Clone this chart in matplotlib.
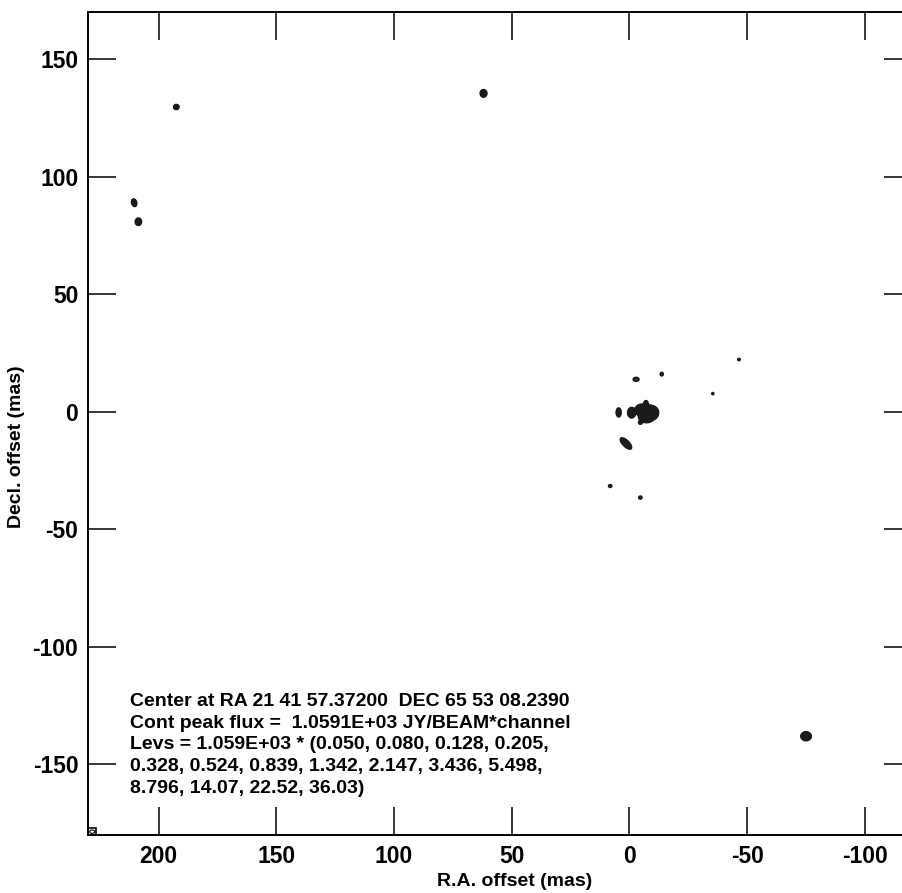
import numpy as np
import matplotlib.pyplot as plt
from matplotlib.patches import Rectangle, Ellipse

plt.rcParams['font.family'] = ['Liberation Sans', 'DejaVu Sans']
plt.rcParams['font.weight'] = 'bold'
plt.rcParams['axes.unicode_minus'] = False

# Components (offsets in mas, peak in Jy/beam*channel,
# sigmas in mas along major/minor axis, position angle in deg from +x)
src_x = [-7.4, -5.0, -9.8, -7.0, -6.0, -0.9, 4.6, 1.5, -2.8, -13.7, -4.6,
         -46.5, -35.4, 8.2, -4.6, -75.0, 210.4, 208.6, 192.5, 62.0]
src_y = [-0.8, 0.8, -0.4, 3.6, -2.6, -0.4, -0.3, -13.5, 13.8, 16.0, -4.6,
         22.2, 7.7, -31.6, -36.5, -138.0, 88.9, 80.8, 129.6, 135.4]
src_peak = [1900, 700, 850, 160, 300, 520, 240, 320, 130, 100, 110,
            80, 75, 100, 100, 520, 200, 240, 170, 260]
src_smaj = [1.4, 1.1, 1.15, 0.7, 0.9, 1.0, 1.05, 1.6, 0.85, 0.6, 0.55,
            0.5, 0.45, 0.55, 0.55, 1.0, 0.95, 0.85, 0.7, 0.85]
src_smin = [1.3, 1.0, 1.05, 0.5, 0.7, 0.75, 0.55, 0.65, 0.55, 0.5, 0.5,
            0.45, 0.45, 0.45, 0.5, 0.85, 0.6, 0.72, 0.65, 0.75]
src_pa = [90, 0, 90, 90, 0, 90, 90, 45, 0, 90, 0,
          0, 0, 0, 0, 0, 75, 90, 0, 90]

lev_base = 1.059E+03
lev_mult = [0.050, 0.080, 0.128, 0.205, 0.328, 0.524, 0.839, 1.342,
            2.147, 3.436, 5.498, 8.796, 14.07, 22.52, 36.03]

x_ticks = [200, 150, 100, 50, 0, -50, -100]
y_ticks = [-150, -100, -50, 0, 50, 100, 150]

info_lines = [
    "Center at RA 21 41 57.37200  DEC 65 53 08.2390",
    "Cont peak flux =  1.0591E+03 JY/BEAM*channel",
    "Levs = 1.059E+03 * (0.050, 0.080, 0.128, 0.205,",
    "0.328, 0.524, 0.839, 1.342, 2.147, 3.436, 5.498,",
    "8.796, 14.07, 22.52, 36.03)",
]

# Build the image from the components
xg = np.arange(232, -122, -0.15)
yg = np.arange(-182, 172, 0.15)
X, Y = np.meshgrid(xg, yg)
img = np.zeros_like(X)
for x0, y0, p, a, b, pa in zip(src_x, src_y, src_peak, src_smaj, src_smin, src_pa):
    r = 6 * a
    ix = np.where(np.abs(xg - x0) < r)[0]
    iy = np.where(np.abs(yg - y0) < r)[0]
    sl = (slice(iy[0], iy[-1] + 1), slice(ix[0], ix[-1] + 1))
    dx = X[sl] - x0
    dy = Y[sl] - y0
    t = np.deg2rad(pa)
    u = dx * np.cos(t) + dy * np.sin(t)
    v = -dx * np.sin(t) + dy * np.cos(t)
    img[sl] += p * np.exp(-0.5 * ((u / a) ** 2 + (v / b) ** 2))

levels = [lev_base * m for m in lev_mult]

fig = plt.figure(figsize=(9.03, 8.93), dpi=100)
ax = fig.add_axes([88 / 903, 58 / 893, 824 / 903, 823 / 893])
# the densely packed contours merge into solid blobs in the original
ax.contourf(X, Y, img, levels=[levels[2], img.max() + 1], colors='#1a1a1a')
ax.contour(X, Y, img, levels=levels, colors='#1a1a1a', linewidths=1.4)

ax.set_xlim(230, -120)
ax.set_ylim(-180, 170)
ax.set_xticks(x_ticks)
ax.set_yticks(y_ticks)
ax.tick_params(direction='in', length=20, width=1.1, top=True, right=True,
               labelsize=16.5, pad=7)
for s in ax.spines.values():
    s.set_linewidth(1.4)

# beam in the corner
ax.add_patch(Rectangle((230, -180), -3.6, 2.8, facecolor='none',
                       edgecolor='black', linewidth=1.2))
ax.add_patch(Ellipse((228.2, -178.6), 2.2, 1.4, facecolor='none',
                     edgecolor='black', linewidth=0.8))

ax.text(212, -119.5, "\n".join(info_lines), fontsize=14, fontweight='bold',
        va='top', ha='left', linespacing=1.37)

fig.text(515 / 903, 1 - 882 / 893, "R.A. offset (mas)", ha='center',
         va='center', fontsize=14, fontweight='bold')
fig.text(17 / 903, 0.5, "Decl. offset (mas)", ha='center', va='center',
         rotation=90, fontsize=14, fontweight='bold')

fig.savefig('out.png', dpi=100)
